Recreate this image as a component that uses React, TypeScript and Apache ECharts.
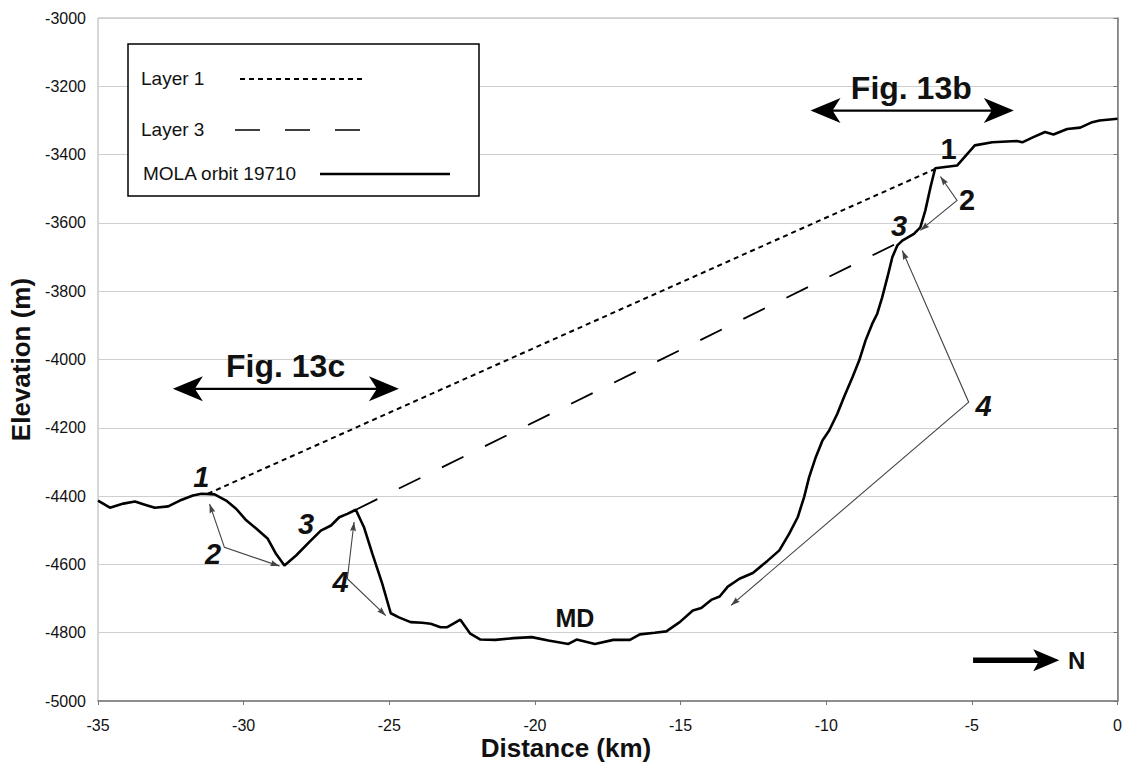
import React, { useEffect, useRef } from "react";
import * as echarts from "echarts";

// ---- Data (distance km, elevation m) ----
const molaDistance = [
  -35.0, -34.59, -34.13, -33.73, -33.39, -33.05, -32.59, -32.19, -31.74, -31.45,
  -31.0, -30.6, -30.26, -29.91, -29.57, -29.17, -28.89, -28.6, -28.2, -27.75,
  -27.35, -27.0, -26.72, -26.44, -26.15, -25.87, -25.58, -25.24, -24.95, -24.67,
  -24.27, -23.87, -23.58, -23.24, -23.01, -22.56, -22.22, -21.87, -21.36, -20.73,
  -20.11, -19.54, -18.85, -18.57, -17.94, -17.31, -16.74, -16.4, -15.89, -15.49,
  -15.03, -14.58, -14.29, -13.95, -13.66, -13.38, -12.98, -12.52, -12.01, -11.61,
  -11.27, -10.98, -10.76, -10.59, -10.36, -10.13, -9.9, -9.62, -9.39, -9.1,
  -8.87, -8.65, -8.42, -8.25, -8.08, -7.9, -7.73, -7.56, -7.39, -6.99,
  -6.77, -6.6, -6.42, -6.26, -5.51, -4.9, -4.3, -3.46, -3.27, -2.89,
  -2.49, -2.2, -1.73, -1.28, -0.87, -0.62, 0,
];
const molaElevation = [
  -4413, -4434, -4422, -4416, -4425, -4434, -4430, -4413, -4398, -4393,
  -4395, -4413, -4437, -4471, -4495, -4525, -4569, -4603, -4574, -4535,
  -4501, -4486, -4462, -4452, -4440, -4491, -4569, -4657, -4743, -4755,
  -4769, -4771, -4774, -4784, -4784, -4762, -4803, -4820, -4821, -4816,
  -4813, -4823, -4833, -4820, -4833, -4821, -4821, -4805, -4800, -4796,
  -4769, -4735, -4728, -4704, -4694, -4665, -4642, -4625, -4589, -4559,
  -4510, -4462, -4403, -4345, -4286, -4237, -4208, -4159, -4110, -4052,
  -4003, -3944, -3895, -3866, -3818, -3759, -3700, -3666, -3652, -3632,
  -3613, -3564, -3495, -3440, -3432, -3373, -3364, -3360, -3364, -3349,
  -3334, -3341, -3325, -3321, -3305, -3300, -3295,
];
const layer1Distance = [-31.23, -6.26];
const layer1Elevation = [-4393, -3442];
const layer3Distance = [-26.15, -7.39];
const layer3Elevation = [-4440, -3652];

const xTicks = { min: -35, max: 0, step: 5 };
const yTicks = { min: -5000, max: -3000, step: 200 };

const xTitle = "Distance (km)";
const yTitle = "Elevation (m)";
const legendLabels = ["Layer 1", "Layer 3", "MOLA orbit 19710"];

// Annotation labels: [text, x km, y m, italic]
const pointLabels: [string, number, number, boolean][] = [
  ["1", -31.45, -4345, true],
  ["2", -31.05, -4569, true],
  ["3", -27.86, -4481, true],
  ["4", -26.67, -4652, true],
  ["1", -5.8, -3383, false],
  ["2", -5.17, -3534, false],
  ["3", -7.5, -3608, true],
  ["4", -4.6, -4135, true],
];
const mdLabel: [string, number, number] = ["MD", -18.63, -4756];

// Thin pointer arrows: vertex, end1, end2
const pointerArrows: [number, number][][] = [
  [[-30.66, -4550], [-31.17, -4423], [-28.77, -4605]],
  [[-26.44, -4642], [-26.21, -4476], [-25.12, -4750]],
  [[-5.51, -3534], [-6.08, -3464], [-6.77, -3622]],
  [[-5.11, -4125], [-7.39, -3681], [-13.27, -4720]],
];

// Figure extent arrows: [label, x1, x2, y arrow, label x, label y]
const figArrows: [string, number, number, number, number, number][] = [
  ["Fig. 13c", -32.43, -24.67, -4086, -28.56, -4018],
  ["Fig. 13b", -10.54, -3.56, -3271, -7.08, -3204],
];
const northArrow = { x1: -4.96, x2: -2.0, y: -4881, labelX: -1.4, label: "N" };

const FONT = "'Liberation Sans', Arial, Helvetica, sans-serif";

function arrowHead(tip: number[], from: number[], L: number, W: number, notch: number) {
  const dx = tip[0] - from[0];
  const dy = tip[1] - from[1];
  const len = Math.hypot(dx, dy) || 1;
  const ux = dx / len, uy = dy / len;
  const px = -uy, py = ux;
  const bx = tip[0] - ux * L, by = tip[1] - uy * L;
  return [
    [tip[0], tip[1]],
    [bx + px * W, by + py * W],
    [tip[0] - ux * (L - notch), tip[1] - uy * (L - notch)],
    [bx - px * W, by - py * W],
  ];
}

export default function App() {
  const ref = useRef<HTMLDivElement>(null);

  useEffect(() => {
    if (!ref.current) return;
    const chart = echarts.init(ref.current, undefined, { renderer: "svg" });

    const mola = molaDistance.map((d, i) => [d, molaElevation[i]]);
    const l1 = layer1Distance.map((d, i) => [d, layer1Elevation[i]]);
    const l3 = layer3Distance.map((d, i) => [d, layer3Elevation[i]]);

    chart.setOption({
      animation: false,
      backgroundColor: "#fff",
      grid: {
        left: 98,
        right: 4,
        top: 18,
        bottom: 65,
        show: true,
        borderColor: "#b0b0b0",
        borderWidth: 1,
      },
      xAxis: {
        type: "value",
        min: xTicks.min,
        max: xTicks.max,
        interval: xTicks.step,
        axisLine: { lineStyle: { color: "#777", width: 1.5 } },
        axisTick: { show: true, length: 4, lineStyle: { color: "#777" } },
        axisLabel: {
          fontFamily: FONT,
          fontSize: 16,
          color: "#111",
          margin: 16,
          formatter: (v: number) => String(v),
        },
        splitLine: { show: false },
      },
      yAxis: {
        type: "value",
        min: yTicks.min,
        max: yTicks.max,
        interval: yTicks.step,
        name: yTitle,
        nameLocation: "middle",
        nameRotate: 90,
        nameGap: 63,
        nameTextStyle: { fontFamily: FONT, fontSize: 26, fontWeight: "bold", color: "#111" },
        axisLine: { show: true, lineStyle: { color: "#777", width: 1.5 } },
        axisTick: { show: true, length: 4, lineStyle: { color: "#777" } },
        axisLabel: {
          fontFamily: FONT,
          fontSize: 16,
          color: "#111",
          margin: 12,
          formatter: (v: number) => String(v),
        },
        splitLine: { show: true, lineStyle: { color: "#cfcfcf", width: 1 } },
      },
      series: [
        {
          name: "Layer 1",
          type: "line",
          data: l1,
          showSymbol: false,
          lineStyle: { color: "#000", width: 2, type: [5, 4] },
          z: 3,
        },
        {
          name: "Layer 3",
          type: "line",
          data: l3,
          showSymbol: false,
          lineStyle: { color: "#000", width: 1.8, type: [24, 24] },
          z: 3,
        },
        {
          name: "MOLA orbit 19710",
          type: "line",
          data: mola,
          showSymbol: false,
          lineStyle: { color: "#000", width: 2.6 },
          z: 4,
        },
      ],
    });

    const px = (x: number, y: number) => chart.convertToPixel({ gridIndex: 0 }, [x, y]) as number[];
    const graphics: any[] = [];

    // X axis title
    graphics.push({
      type: "text",
      x: 566,
      y: 748,
      style: { text: xTitle, fontFamily: FONT, fontSize: 26, fontWeight: "bold", fill: "#111", align: "center", verticalAlign: "middle" },
      z: 50,
    });

    // Legend box
    graphics.push({
      type: "rect",
      shape: { x: 128, y: 44, width: 351, height: 152 },
      style: { fill: "#fff", stroke: "#000", lineWidth: 1.5 },
      z: 100,
    });
    const legendY = [78, 129, 173];
    const legendX = [141, 141, 143];
    legendLabels.forEach((t, i) => {
      graphics.push({
        type: "text",
        x: legendX[i],
        y: legendY[i],
        style: { text: t, fontFamily: FONT, fontSize: 19, fill: "#111", align: "left", verticalAlign: "middle" },
        z: 101,
      });
    });
    graphics.push({
      type: "line",
      shape: { x1: 240, y1: 79, x2: 366, y2: 79 },
      style: { stroke: "#000", lineWidth: 1.8, lineDash: [5, 4] },
      z: 101,
    });
    graphics.push({
      type: "line",
      shape: { x1: 235, y1: 130, x2: 361, y2: 130 },
      style: { stroke: "#000", lineWidth: 1.5, lineDash: [25, 25] },
      z: 101,
    });
    graphics.push({
      type: "line",
      shape: { x1: 320, y1: 174, x2: 450, y2: 174 },
      style: { stroke: "#000", lineWidth: 2.6 },
      z: 101,
    });

    // Point labels
    pointLabels.forEach(([t, x, y, it]) => {
      const p = px(x, y);
      graphics.push({
        type: "text",
        x: p[0],
        y: p[1],
        style: {
          text: t,
          fontFamily: FONT,
          fontSize: 29,
          fontWeight: "bold",
          fontStyle: it ? "italic" : "normal",
          fill: "#111",
          align: "center",
          verticalAlign: "middle",
        },
        z: 50,
      });
    });
    {
      const p = px(mdLabel[1], mdLabel[2]);
      graphics.push({
        type: "text",
        x: p[0],
        y: p[1],
        style: { text: mdLabel[0], fontFamily: FONT, fontSize: 25, fontWeight: "bold", fill: "#111", align: "center", verticalAlign: "middle" },
        z: 50,
      });
    }

    // Thin pointer arrows
    pointerArrows.forEach(([v, e1, e2]) => {
      const pv = px(v[0], v[1]);
      const p1 = px(e1[0], e1[1]);
      const p2 = px(e2[0], e2[1]);
      graphics.push({
        type: "polyline",
        shape: { points: [p1, pv, p2] },
        style: { stroke: "#444", lineWidth: 1.1, fill: null },
        z: 50,
      });
      [p1, p2].forEach((tip) => {
        graphics.push({
          type: "polygon",
          shape: { points: arrowHead(tip, pv, 9, 3, 1) },
          style: { fill: "#444" },
          z: 50,
        });
      });
    });

    // Figure extent arrows
    figArrows.forEach(([label, x1, x2, y, lx, ly]) => {
      const a = px(x1, y);
      const b = px(x2, y);
      graphics.push({
        type: "line",
        shape: { x1: a[0] + 20, y1: a[1], x2: b[0] - 20, y2: b[1] },
        style: { stroke: "#000", lineWidth: 2.2 },
        z: 50,
      });
      graphics.push({ type: "polygon", shape: { points: arrowHead(a, b, 30, 12.5, 8) }, style: { fill: "#000" }, z: 50 });
      graphics.push({ type: "polygon", shape: { points: arrowHead(b, a, 30, 12.5, 8) }, style: { fill: "#000" }, z: 50 });
      const l = px(lx, ly);
      graphics.push({
        type: "text",
        x: l[0],
        y: l[1],
        style: { text: label, fontFamily: FONT, fontSize: 32, fontWeight: "bold", fill: "#111", align: "center", verticalAlign: "middle" },
        z: 50,
      });
    });

    // North arrow
    {
      const a = px(northArrow.x1, northArrow.y);
      const b = px(northArrow.x2, northArrow.y);
      graphics.push({
        type: "line",
        shape: { x1: a[0], y1: a[1], x2: b[0] - 20, y2: b[1] },
        style: { stroke: "#000", lineWidth: 5.5 },
        z: 50,
      });
      graphics.push({ type: "polygon", shape: { points: arrowHead(b, a, 26, 11, 6) }, style: { fill: "#000" }, z: 50 });
      const l = px(northArrow.labelX, northArrow.y);
      graphics.push({
        type: "text",
        x: l[0],
        y: l[1],
        style: { text: northArrow.label, fontFamily: FONT, fontSize: 24, fontWeight: "bold", fill: "#111", align: "center", verticalAlign: "middle" },
        z: 50,
      });
    }

    chart.setOption({ graphic: { elements: graphics } });

    return () => chart.dispose();
  }, []);

  return (
    <div
      ref={ref}
      style={{ position: "fixed", left: 0, top: 0, width: 1125, height: 766, background: "#fff" }}
    />
  );
}
